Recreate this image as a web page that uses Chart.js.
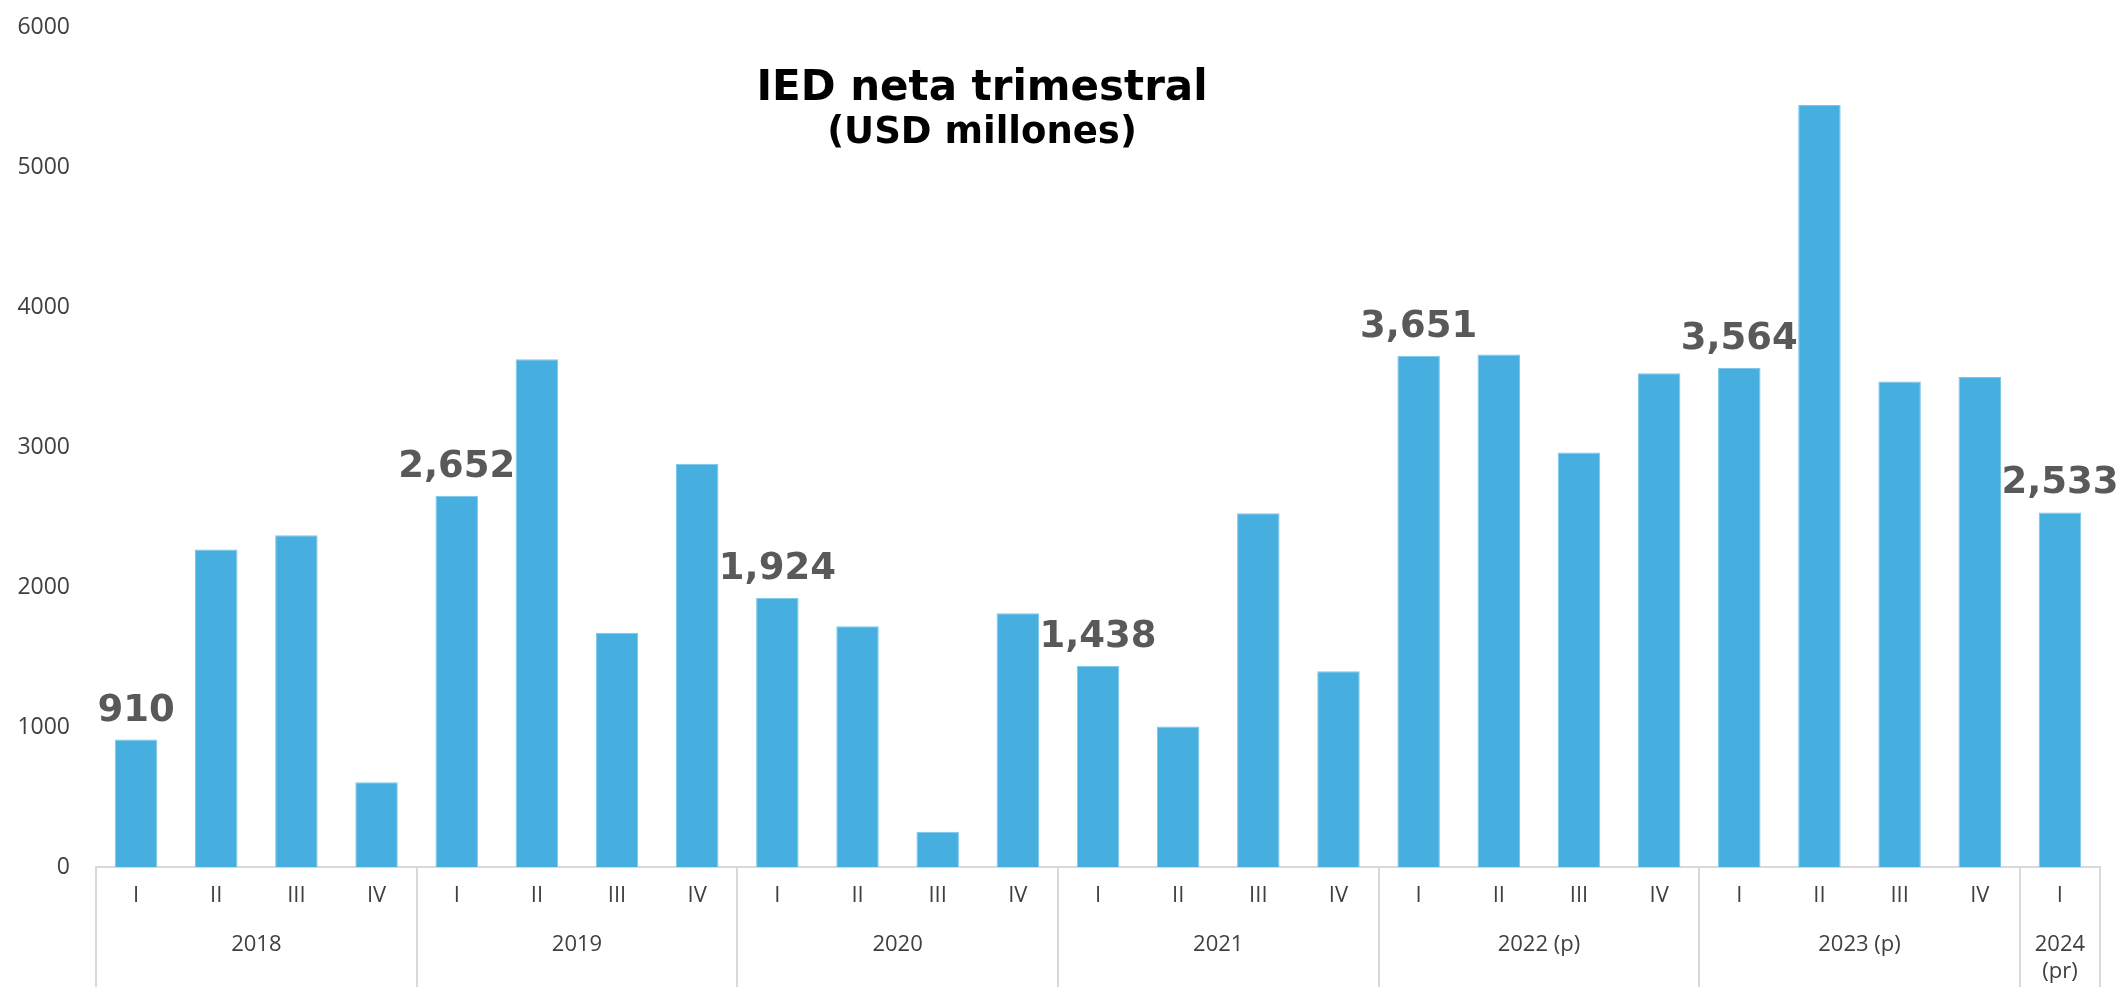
<!DOCTYPE html>
<html lang="es">
<head>
<meta charset="utf-8">
<title>IED neta trimestral</title>
<script src="https://cdn.jsdelivr.net/npm/chart.js@4/dist/chart.umd.min.js"></script>
<style>
    body { margin: 0; background: #fff; }
    .panel { position: relative; width: 2122px; height: 987px; }
    .titulo {
        position: absolute; left: 0; top: 63px; width: 1964px;
        text-align: center; font-family: "DejaVu Sans", Verdana, sans-serif;
        font-weight: bold; color: #000;
    }
    .titulo .l1 { font-size: 42px; line-height: 46px; }
    .titulo .l2 { font-size: 37px; line-height: 44px; }
</style>
</head>
<body>
<div class="panel">
    <canvas id="grafico" width="2122" height="987"></canvas>
    <div class="titulo">
        <div class="l1">IED neta trimestral</div>
        <div class="l2">(USD millones)</div>
    </div>
</div>
<script>
// datos (USD millones)
const trimestres = [
    'I', 'II', 'III', 'IV',
    'I', 'II', 'III', 'IV',
    'I', 'II', 'III', 'IV',
    'I', 'II', 'III', 'IV',
    'I', 'II', 'III', 'IV',
    'I', 'II', 'III', 'IV',
    'I'
];
const valores = [
    910, 2267, 2370, 605,
    2652, 3626, 1673, 2881,
    1924, 1720, 251, 1813,
    1438, 1004, 2526, 1398,
    3651, 3660, 2960, 3526,
    3564, 5443, 3467, 3500,
    2533
];
const anios = ['2018', '2019', '2020', '2021', '2022 (p)', '2023 (p)', ['2024', '(pr)']];
const trimestresPorAnio = [4, 4, 4, 4, 4, 4, 1];
const ticksY = [0, 1000, 2000, 3000, 4000, 5000, 6000];

// centro de cada grupo de anio sobre una escala 0..n (bordes de categoria)
const centrosAnio = [];
let acumulado = 0;
for (const n of trimestresPorAnio) {
    centrosAnio.push(acumulado + n / 2);
    acumulado += n;
}

const fuenteEje = { family: '"Open Sans", sans-serif', size: 22 };
const colorTexto = '#404040';
const colorLinea = '#d9d9d9';

// etiquetas de valor solo en el primer trimestre de cada anio
const etiquetasValor = {
    id: 'etiquetasValor',
    afterDatasetsDraw(chart) {
        const { ctx } = chart;
        const meta = chart.getDatasetMeta(0);
        ctx.save();
        ctx.font = 'bold 37px "DejaVu Sans"';
        ctx.fillStyle = '#595959';
        ctx.textAlign = 'center';
        ctx.textBaseline = 'alphabetic';
        meta.data.forEach((bar, i) => {
            if (trimestres[i] !== 'I') return;
            ctx.fillText(valores[i].toLocaleString('en-US'), bar.x, bar.y - 19);
        });
        ctx.restore();
    }
};

const canva = document.querySelector('#grafico');

new Chart(canva, {
    type: 'bar',
    data: {
        labels: trimestres,
        datasets: [
            {
                label: 'IED neta',
                data: valores,
                backgroundColor: '#46afe0',
                borderColor: '#7cc6ea',
                borderWidth: 1,
                barPercentage: 0.53,
                categoryPercentage: 1
            }
        ]
    },
    options: {
        responsive: false,
        devicePixelRatio: 1,
        animation: false,
        layout: { padding: { top: 27, right: 22, left: 0, bottom: 0 } },
        plugins: {
            legend: { display: false },
            tooltip: { enabled: false }
        },
        scales: {
            y: {
                min: 0,
                max: 6000,
                afterBuildTicks: (s) => { s.ticks = ticksY.map(v => ({ value: v })); },
                afterFit: (s) => {
                    s.width = 96;
                    s.paddingTop = 0;
                    s.paddingBottom = 0;
                },
                grid: { display: false, drawTicks: false },
                border: { display: false },
                ticks: {
                    font: { family: '"Open Sans", sans-serif', size: 23 },
                    color: colorTexto,
                    padding: 26,
                    callback: (v) => String(v)
                }
            },
            x: {
                position: 'bottom',
                weight: 0,
                offset: true,
                afterFit: (s) => { s.height = 55; },
                grid: {
                    offset: true,
                    drawOnChartArea: false,
                    drawTicks: true,
                    tickLength: 120,
                    lineWidth: 2,
                    color: (c) => (c.index === undefined || c.index % 4 === 0) ? colorLinea : 'rgba(0,0,0,0)'
                },
                border: { display: true, color: colorLinea, width: 2 },
                ticks: {
                    font: fuenteEje,
                    color: colorTexto,
                    autoSkip: false,
                    maxRotation: 0,
                    padding: -104
                }
            },
            anio: {
                type: 'linear',
                position: 'bottom',
                weight: 1,
                offset: false,
                min: 0,
                max: trimestres.length,
                afterBuildTicks: (s) => { s.ticks = centrosAnio.map(v => ({ value: v })); },
                afterFit: (s) => { s.height = 65; },
                grid: { display: false, drawTicks: false, offset: false },
                border: { display: false },
                ticks: {
                    font: fuenteEje,
                    color: colorTexto,
                    autoSkip: false,
                    maxRotation: 0,
                    padding: 10,
                    callback: (v, i) => anios[i]
                }
            }
        }
    },
    plugins: [etiquetasValor]
});
</script>
</body>
</html>
